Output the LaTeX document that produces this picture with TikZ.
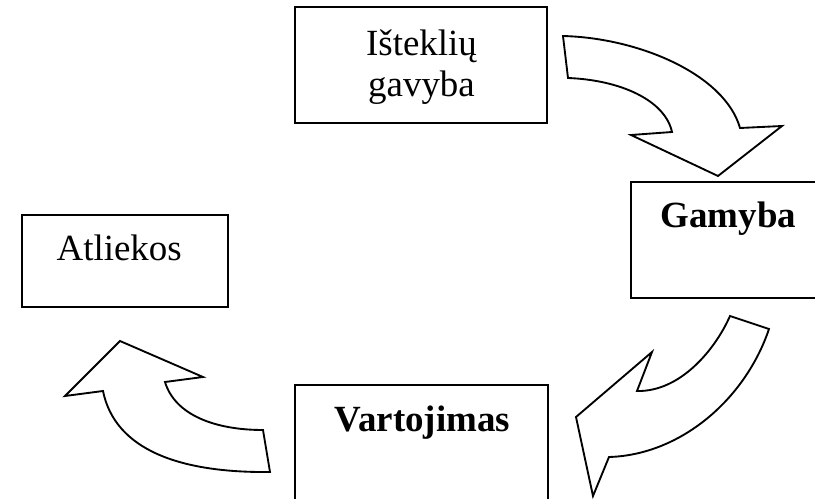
\documentclass[tikz,border=0pt]{standalone}
\usepackage{fontspec}
\setmainfont{Liberation Serif}
\tikzset{box/.style = {draw, line width = 1.4pt, inner sep = 0}}
\tikzset{curvearrow/.style = {draw, fill = white, line width = 1.4pt, line join = miter}}
\tikzset{lbl/.style = {anchor = base, inner sep = 0, align = center, font = \fontsize{27.7}{30.75}\selectfont}}

\begin{document}
\begin{tikzpicture}[x = 0.75pt, y = -0.75pt]
    \clip (0, 0) rectangle (815, 499);

    \node [box, minimum width = 189.2pt, minimum height = 87pt] (istekliai) at (421.2, 65.3) {};
    \node [box, minimum width = 146.3pt, minimum height = 86.5pt] (gamyba) at (728.3, 240) {};
    \node [box, minimum width = 189.5pt, minimum height = 87pt] (vartojimas) at (421.3, 443) {};
    \node [box, minimum width = 154.5pt, minimum height = 69.2pt] (atliekos) at (124.7, 261.2) {};

    \node [lbl] (istekliait) at (421.5, 96.7) {Išteklių\\gavyba};
    \node [lbl, font = \fontsize{27.7}{30.75}\selectfont\bfseries] (gamybat) at (728.3, 227.3) {Gamyba};
    \node [lbl, font = \fontsize{27.7}{30.75}\selectfont\bfseries] (vartojimast) at (422.5, 431.7) {Vartojimas};
    \node [lbl] (atliekost) at (119.2, 261) {Atliekos};

    \draw [curvearrow] (563, 36) .. controls (640, 38) and (725, 75) .. (740, 128) -- (782, 126) -- (718, 176)
        -- (631, 135) -- (672, 132) .. controls (665, 100) and (620, 80) .. (568, 78) -- cycle;
    \draw [curvearrow] (730, 316) -- (769, 329) .. controls (745, 400) and (680, 455) .. (609, 457) -- (593, 496)
        -- (576, 417) -- (652, 352) -- (637, 391) .. controls (680, 392) and (715, 350) .. (730, 316) -- cycle;
    \draw [curvearrow] (120, 341) -- (203, 377) -- (165, 382) .. controls (175, 415) and (215, 430) .. (263, 430)
        -- (270, 472) .. controls (180, 473) and (115, 450) .. (103, 391) -- (65, 396) -- cycle;
  \end{tikzpicture}
\end{document}
